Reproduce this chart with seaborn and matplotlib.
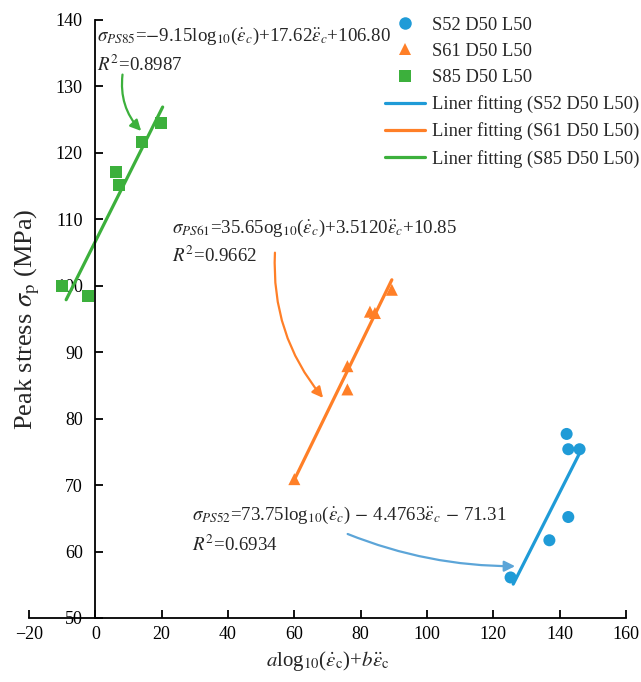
import numpy as np
import pandas as pd
import seaborn as sns
import matplotlib.pyplot as plt
from matplotlib.lines import Line2D

sns.set_theme(style="ticks")
plt.rcParams["font.family"] = ["Liberation Serif", "DejaVu Serif"]
plt.rcParams["mathtext.fontset"] = "stix"

# Measured peak stress vs combined strain-rate term
s52_x = [125.2, 136.9, 142.6, 142.1, 142.6, 146.0]
s52_y = [56.1, 61.7, 65.2, 77.7, 75.4, 75.4]
s61_x = [60.0, 76.0, 76.0, 82.8, 84.3, 89.4]
s61_y = [70.9, 84.4, 87.9, 96.1, 95.9, 99.4]
s85_x = [-10.1, -2.3, 6.1, 7.1, 14.2, 19.8]
s85_y = [99.9, 98.5, 117.1, 115.1, 121.7, 124.5]

# Fitted lines (end points)
fit52_x = [126.0, 146.0]
fit52_y = [55.1, 74.8]
fit61_x = [59.7, 89.4]
fit61_y = [70.5, 100.9]
fit85_x = [-8.8, 20.3]
fit85_y = [97.9, 126.9]

series = ["S52 D50 L50", "S61 D50 L50", "S85 D50 L50"]
colors = ["#1f9bd7", "#ff7f27", "#3cb03c"]
markers = ["o", "^", "s"]

pts = pd.concat([
    pd.DataFrame({"x": s52_x, "y": s52_y, "series": series[0]}),
    pd.DataFrame({"x": s61_x, "y": s61_y, "series": series[1]}),
    pd.DataFrame({"x": s85_x, "y": s85_y, "series": series[2]}),
])
fits = pd.concat([
    pd.DataFrame({"x": fit52_x, "y": fit52_y, "series": series[0]}),
    pd.DataFrame({"x": fit61_x, "y": fit61_y, "series": series[1]}),
    pd.DataFrame({"x": fit85_x, "y": fit85_y, "series": series[2]}),
])
palette = dict(zip(series, colors))

fig = plt.figure(figsize=(6.41, 6.82), dpi=100)
ax = fig.add_axes([29 / 641, 64 / 682, 597 / 641, 598 / 682])

sns.scatterplot(data=pts, x="x", y="y", hue="series", style="series",
                palette=palette, markers=dict(zip(series, markers)),
                s=75, linewidth=0, legend=False, ax=ax, zorder=2.2)
sns.lineplot(data=fits, x="x", y="y", hue="series", palette=palette,
             linewidth=2.3, legend=False, ax=ax, zorder=2.1, estimator=None, sort=False)

ax.set_xlim(-20, 160)
ax.set_ylim(50, 140)
ax.set_xticks(np.arange(-20, 161, 20))
ax.set_yticks(np.arange(50, 141, 10))
ax.set_xticklabels([str(v).replace("-", "\u2212") for v in range(-20, 161, 20)])
ax.spines["left"].set_position(("data", 0))
ax.spines["top"].set_visible(False)
ax.spines["right"].set_visible(False)
for sp in ("left", "bottom"):
    ax.spines[sp].set_color("black")
    ax.spines[sp].set_linewidth(1.3)
ax.tick_params(axis="both", direction="in", length=6, width=1.3, colors="black",
               labelsize=13)
ax.tick_params(axis="y", pad=9)
ax.tick_params(axis="x", pad=6)

ax.set_xlabel(r"$a$log$_{10}$($\dot{\varepsilon}_{\rm c}$)+$b\ddot{\varepsilon}_{\rm c}$",
              fontsize=15)
ax.set_ylabel(r"Peak stress $\sigma_{\rm p}$ (MPa)", fontsize=19)
ax.yaxis.set_label_coords(0.022, 0.5)

eq_fs = 13.6
ax.text(0.5, 137.6, r"$\sigma_{PS85}$=$-$9.15log$_{10}$($\dot{\varepsilon}_c$)+17.62$\ddot{\varepsilon}_c$+106.80",
        fontsize=eq_fs, va="center", ha="left")
ax.text(0.5, 133.3, r"$R^2$=0.8987", fontsize=eq_fs, va="center", ha="left")
ax.text(23.1, 108.7, r"$\sigma_{PS61}$=35.65og$_{10}$($\dot{\varepsilon}_c$)+3.5120$\ddot{\varepsilon}_c$+10.85",
        fontsize=eq_fs, va="center", ha="left")
ax.text(23.1, 104.5, r"$R^2$=0.9662", fontsize=eq_fs, va="center", ha="left")
ax.text(29.1, 65.4, r"$\sigma_{PS52}$=73.75log$_{10}$($\dot{\varepsilon}_c$)$\,-\,$4.4763$\ddot{\varepsilon}_c$$\,-\,$71.31",
        fontsize=eq_fs, va="center", ha="left")
ax.text(29.1, 61.0, r"$R^2$=0.6934", fontsize=eq_fs, va="center", ha="left")

ax.annotate("", xy=(14.4, 123.0), xytext=(8.3, 132.2),
            arrowprops=dict(arrowstyle="-|>", color=colors[2], lw=1.6,
                            mutation_scale=16, connectionstyle="arc3,rad=0.25"))
ax.annotate("", xy=(69.2, 82.8), xytext=(54.2, 105.4),
            arrowprops=dict(arrowstyle="-|>", color=colors[1], lw=1.6,
                            mutation_scale=16, connectionstyle="arc3,rad=0.2"))
ax.annotate("", xy=(127.4, 57.8), xytext=(75.3, 62.8),
            arrowprops=dict(arrowstyle="-|>", color="#5ca5d8", lw=1.6,
                            mutation_scale=16, connectionstyle="arc3,rad=0.1"))

handles = [Line2D([], [], ls="none", marker=m, color=c, markersize=9, markeredgewidth=0)
           for m, c in zip(markers, colors)]
handles += [Line2D([], [], color=c, lw=2.3) for c in colors]
labels = series + [f"Liner fitting ({s})" for s in series]
fig.legend(handles, labels, loc="upper right", bbox_to_anchor=(1.024, 1.0),
           frameon=False, fontsize=13.3, handlelength=2.15, handletextpad=0.4,
           labelspacing=0.5)

fig.savefig("out.png", dpi=100)
